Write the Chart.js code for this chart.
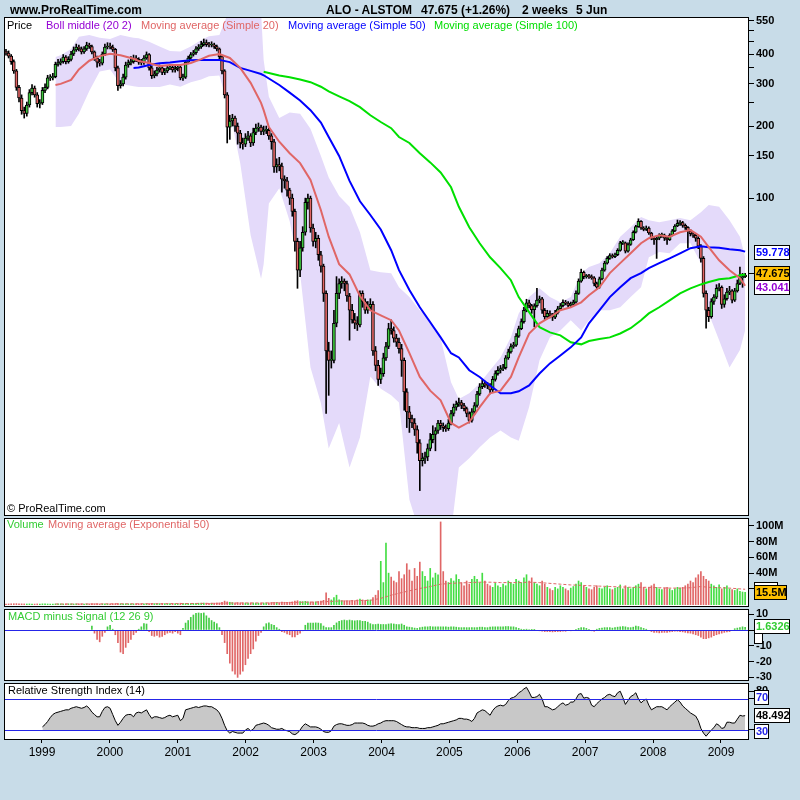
<!DOCTYPE html>
<html>
<head>
<meta charset="utf-8">
<title>ALO - ALSTOM</title>
<script src="https://cdn.jsdelivr.net/npm/chart.js@4.4.1/dist/chart.umd.min.js"></script>
<style>
  body { margin: 0; width: 800px; height: 800px; background: #c8dce8; position: relative; overflow: hidden; font-family: Arial, "Liberation Sans", sans-serif; }
  canvas { position: absolute; left: 0; top: 0; }
  .tt { position: absolute; top: 3px; font-size: 12px; font-weight: bold; line-height: 14px; white-space: nowrap; color: #000; }
  .lg { position: absolute; font-size: 11px; line-height: 14px; white-space: nowrap; }
</style>
</head>
<body>
<canvas id="priceChart" width="800" height="800"></canvas>
<canvas id="volChart" width="800" height="800"></canvas>
<canvas id="macdChart" width="800" height="800"></canvas>
<canvas id="rsiChart" width="800" height="800"></canvas>

<div class="tt" style="left:10px">www.ProRealTime.com</div>
<div class="tt" style="left:326px">ALO - ALSTOM</div>
<div class="tt" style="left:421px">47.675 (+1.26%)</div>
<div class="tt" style="left:522px">2 weeks</div>
<div class="tt" style="left:576px">5 Jun</div>

<div class="lg" style="top:18px;left:7px;color:#000">Price</div>
<div class="lg" style="top:18px;left:46px;color:#9400d3">Boll middle (20 2)</div>
<div class="lg" style="top:18px;left:141px;color:#e06666">Moving average (Simple 20)</div>
<div class="lg" style="top:18px;left:288px;color:#0000ff">Moving average (Simple 50)</div>
<div class="lg" style="top:18px;left:434px;color:#00dd00">Moving average (Simple 100)</div>
<div class="lg" style="top:501px;left:7px;color:#000">© ProRealTime.com</div>
<div class="lg" style="top:517px;left:7px;color:#33cc33">Volume</div>
<div class="lg" style="top:517px;left:48px;color:#e06666">Moving average (Exponential 50)</div>
<div class="lg" style="top:609px;left:8px;color:#33cc33">MACD minus Signal (12 26 9)</div>
<div class="lg" style="top:683px;left:8px;color:#000">Relative Strength Index (14)</div>

<script>
// one candle every 2 weeks, first one mid 1998
const firstBar = 1998.4698;
const barStep = 14 / 365.25;

const openP = [
  410,404,392,372,340,290,262,232,226,245,
  276,288,270,248,250,282,290,318,318,322,
  362,368,372,388,372,380,400,416,428,420,
  408,420,436,430,408,385,370,366,400,428,
  432,428,418,350,295,300,320,360,368,372,
  385,380,370,368,385,398,350,325,330,343,
  350,335,340,350,352,343,348,353,318,320,
  370,385,398,405,420,428,438,446,438,436,
  437,430,420,390,340,270,198,210,216,200,
  187,170,168,178,182,170,188,196,198,190,
  192,192,182,172,135,138,136,120,118,108,
  100,88,66,50,62,72,96,100,75,66,
  68,58,52,40,23,21,21,30,40,44,
  45,44,39,34,31,30,29.5,40,37,34,
  35,36,23,20,17.5,18.5,21.5,24,28.5,28,
  26,25,23.5,21,15.5,12.8,12,11.5,10.8,9.5,
  8,8.2,8.3,9,9.8,10.3,10.7,11.5,11.2,11,
  10.9,11.5,12.6,13.4,13.8,14,13.6,13.2,12.6,11.8,
  12.8,13.6,15.2,16.3,16.8,16.6,16.5,15.8,17.5,18.5,
  19.1,19.4,19.6,21.5,22.8,24,24.3,26.5,28.5,30.5,
  34,36.5,35.6,34.2,35.5,37.5,38,34,32,33,
  32.5,31.8,33.2,34.5,35.5,36.7,36.4,35.6,36,36.8,
  40,45,49,47,47.2,47,46.5,44,42.5,46,
  50,53.5,56,57.5,57,58,60.5,65,65,60,
  64,67,72,76,80,75,74,75,71.5,68,
  67,68,70,70,68,67,70,73,76.5,78.5,
  79,77,75.5,73,71,70,68,63,56,40,
  34,32,37,38.6,42,42.4,36,38,40.5,41,
  37.5,41,44,46.5,47
];
const highP = [
  418,412,398,378,345,296,270,240,252,284,
  298,294,276,258,290,300,326,328,332,370,
  380,382,398,394,390,410,428,440,436,428,
  430,448,444,436,412,392,380,408,440,446,
  444,436,422,356,310,330,370,378,390,396,
  394,386,380,394,408,402,356,340,352,360,
  356,348,358,362,358,356,362,358,330,376,
  392,406,414,430,438,452,462,458,448,450,
  444,436,424,394,344,276,222,224,220,206,
  192,178,186,190,186,196,204,206,202,200,
  200,196,186,176,146,148,140,124,122,110,
  104,90,68,66,76,100,104,102,78,72,
  70,60,53,41,25,23,34,47,46,47,
  46,45,40,36,33,32,41,41,38,37,
  38,37,24,21,19.5,22.5,25,30,31,29,
  27,26,24.5,21.5,16,13.5,12.4,12,11.2,9.8,
  8.6,8.7,9.4,10.4,11.2,11,11.8,11.8,11.5,11.3,
  11.9,13,13.8,14.2,14.6,14.3,13.9,13.4,12.8,13.2,
  14,15.6,16.8,17.4,17.2,17,16.8,18,19,19.8,
  20,20.2,22,23.4,24.6,25,27.2,29.2,31.3,35,
  37.8,37.5,36,36.2,42,39,38.5,34.6,34,33.8,
  33,34,35.3,36.3,37.6,37.4,37,36.8,37.5,41,
  46,50.5,49.6,48,48,47.8,47,44.6,46.8,51,
  54.5,57,58.6,58.5,59,61.5,66,66.5,65.6,65,
  68,73,77,82,80.6,76,76.5,75.8,72,69,
  69.5,71,71.5,70.8,68.8,71,74,77.5,81,80.5,
  80,78,76,74,72,71,69,64,57,41,
  35,38,39.5,43.5,44,43,39.5,42,42.8,41.5,
  42,45.5,51.5,48.5,48.5
];
const lowP = [
  396,385,362,332,282,252,224,216,220,240,
  270,264,240,238,246,276,286,310,312,318,
  356,360,366,364,366,374,394,410,412,400,
  402,414,422,400,376,352,356,360,394,420,
  420,410,340,282,288,294,314,352,360,366,
  372,362,360,362,380,342,316,318,324,336,
  328,328,334,344,336,336,340,312,310,316,
  364,380,392,398,414,422,432,430,428,428,
  422,412,382,330,262,170,176,200,190,168,
  162,160,164,174,164,166,184,190,184,184,
  186,176,160,128,128,130,106,110,102,94,
  84,60,42,47,60,70,90,72,63,62,
  55,49,37,12.6,15,19.5,20.5,29,38,42,
  41,37,25.5,30,28.5,28,29,35,33,33,
  34,22,19,16.5,16.8,18,21,23.5,27,25,
  24,22.5,18,13,11,10.5,11,10.2,8.6,6,
  7.6,7.8,8,8.8,9.5,8.8,10.4,10.8,10.6,10.6,
  10.7,11.3,12.3,13,13.5,13.2,12.9,12.2,11.5,11.6,
  12.5,13.4,15,16,16.2,16,15.2,15.5,17.2,18.2,
  18.6,19,19.3,21.2,22.5,23.6,24,26.2,28.2,30,
  33.5,34.8,33,29,35,36.5,33,31,31.5,31.6,
  30.8,31.4,32.8,34,35.1,35.8,35,35.2,35.5,36.4,
  39.6,44.5,46,46.3,46.2,45.8,43,41.5,42,45.5,
  49.5,53,55.5,56.2,56.4,57.5,60,64,59,59.5,
  63.5,66.5,71.5,75.5,74,73,73.2,70.5,67,64,
  56,67,68.5,66.5,64,66.5,69.5,72.5,76,77,
  75.5,74,62,69.5,68.5,66,61.5,54,38.6,28.6,
  30.5,31.5,36,38,41,34.6,35,37.5,39.5,36.5,
  37,40.5,43.5,42.4,46.5
];
const closeP = [
  404,392,372,340,290,262,232,226,245,276,
  288,270,248,250,282,290,318,318,322,362,
  368,372,388,372,380,400,416,428,420,408,
  420,436,430,408,385,370,366,400,428,432,
  428,418,350,295,300,320,360,368,372,385,
  380,370,368,385,398,350,325,330,343,350,
  335,340,350,352,343,348,353,318,320,370,
  385,398,405,420,428,438,446,438,436,437,
  430,420,390,340,270,198,210,216,200,187,
  170,168,178,182,170,188,196,198,190,192,
  192,182,172,135,138,136,120,118,108,100,
  88,66,50,62,72,96,100,75,66,68,
  58,52,40,23,21,21,30,40,44,45,
  44,39,34,31,30,29.5,40,37,34,35,
  36,23,20,17.5,18.5,21.5,24,28.5,28,26,
  25,23.5,21,15.5,12.8,12,11.5,10.8,9.5,8,
  8.2,8.3,9,9.8,10.3,10.7,11.5,11.2,11,10.9,
  11.5,12.6,13.4,13.8,14,13.6,13.2,12.6,11.8,12.8,
  13.6,15.2,16.3,16.8,16.6,16.5,15.8,17.5,18.5,19.1,
  19.4,19.6,21.5,22.8,24,24.3,26.5,28.5,30.5,34,
  36.5,35.6,34.2,35.5,37.5,38,34,32,33,32.5,
  31.8,33.2,34.5,35.5,36.7,36.4,35.6,36,36.8,40,
  45,49,47,47.2,47,46.5,44,42.5,46,50,
  53.5,56,57.5,57,58,60.5,65,65,60,64,
  67,72,76,80,75,74,75,71.5,68,67,
  68,70,70,68,67,70,73,76.5,78.5,79,
  77,75.5,73,71,70,68,63,56,40,34,
  32,37,38.6,42,42.4,36,38,40.5,41,37.5,
  41,44,46.5,47,47.675
];

// volume in millions
const volume = [
  0.8,0.9,1.1,1.2,1.3,1.1,1.0,0.9,0.8,0.9,
  0.8,0.7,0.9,0.8,1.0,0.9,0.8,0.7,0.8,0.9,
  0.9,1.0,0.8,0.9,1.0,0.9,0.8,0.9,1.0,0.9,
  0.8,0.9,1.0,1.1,1.2,1.0,0.9,0.9,1.0,0.9,
  0.9,1.0,1.4,1.5,1.2,1.0,1.1,1.0,0.9,1.0,
  1.1,1.2,1.0,1.1,1.2,1.4,1.5,1.3,1.2,1.3,
  1.4,1.3,1.2,1.3,1.4,1.5,1.4,1.8,1.6,1.5,
  1.4,1.5,1.6,1.7,1.8,1.9,2.0,1.8,1.7,1.8,
  1.9,2.0,2.2,2.8,4.5,3.5,3.0,2.6,2.4,2.5,
  2.3,2.2,2.1,2.0,2.2,2.1,2.0,1.9,2.0,2.1,
  2.2,2.3,2.5,3.0,2.8,2.6,3.2,3.0,2.9,3.1,
  3.5,4.5,5.0,4.0,3.8,4.2,3.6,3.4,3.2,3.5,
  4.0,4.5,5.5,15,8,6,9,12,6,5,
  5,4.5,5,5.5,5,6,7,6,5.5,6,
  6,9,12,18,55,28,78,40,35,30,
  28,42,33,38,52,44,30,46,36,54,
  42,36,30,46,34,40,38,105,42,30,
  28,33,30,38,32,28,24,30,26,32,
  36,32,28,40,30,26,24,22,27,24,
  22,26,24,30,28,26,32,30,28,34,
  38,30,34,28,26,24,30,26,22,20,
  18,22,20,24,22,20,18,21,23,26,
  30,28,24,22,20,19,22,24,21,20,
  22,24,20,19,21,22,25,20,24,22,
  20,22,24,26,28,22,20,22,24,26,
  22,20,19,21,22,20,18,20,22,21,
  22,24,26,30,28,34,38,42,36,32,
  30,26,24,22,25,20,22,24,20,19,
  18,20,17,16,15.5
];

// MACD minus signal, first value on bar 33
const macdStart = 33;
const macdHist = [
  2.5,-2,-6,-7.5,-4,-1.5,2,
  3,0.5,-3,-8,-14,-15,-11,-8,-6,-3,
  -1.5,0.5,2,4,3.8,-1,-3.5,-4,-3.5,-4.5,
  -4,-3,-2,-1.5,-2,-1,-2,-3,1,4.4,
  6,8,9.5,10.5,10.8,10.5,10.8,9,7.5,6,
  5,4,1.5,-3,-8,-15,-21,-26,-28,-30,
  -28,-26,-22,-18,-15,-12,-7,-3.5,-1.5,2,
  4,4.5,3.5,3,1.5,0.5,-1,-1.5,-2.5,-3,
  -4.4,-4.4,-3,-2,-0.5,3,4.4,4.4,4.4,4.5,
  4.4,4,2.5,1.5,1.5,1.5,3,4.5,5.5,6,
  6.3,6,6.3,6,5.8,6,6,5.5,5.5,5,
  4,3.5,3.5,3.8,3.5,3.5,3.5,3.8,4,3.8,
  3.5,3.5,3.8,3,2,1.8,1.5,1.2,1,1.5,
  1.8,2,2,2.2,2,2,2,2,2,2,
  1.8,2,2,1.8,1.5,1.5,1.5,1.5,1.5,1.5,
  1.5,1.5,1.8,1.8,1.5,1.5,1.8,2,2,2,
  2,2,2.2,2.2,2,2,1.5,1,0.5,0.5,
  0.5,0.3,0.2,0.1,-0.3,-0.5,-0.8,-1,-1,-1,
  -1.2,-1,-1,-1,-0.8,-0.8,-0.5,-0.5,-0.3,0.5,
  1,1.5,1.5,1,0.5,-0.5,-0.8,0.5,1,1.2,
  1.5,1.5,1.5,1.2,1.5,1.8,2,2.2,2,1.5,
  1.5,1.8,2.5,2.2,1.5,1,0.5,-0.5,-1,-1.5,
  -1.5,-1.8,-1.5,-1.5,-1.5,-1.2,-1,-0.8,-0.8,-1,
  -1.2,-1.5,-1.8,-2,-2.5,-3,-3.5,-4.5,-5.5,-5.5,
  -5,-4.5,-3.6,-3,-2.5,-2,-1.5,-1.2,-1,-0.5,
  0.8,1.2,1.5,2,1.6326
];

// RSI 14, first value on bar 14
const rsiStart = 14;
const rsi = [
  34,37,41,46,50,52,
  53,54,55,56,56,58,59,60,59,58,
  59,61,58,53,50,47,47,54,59,60,
  58,50,42,36,40,45,49,50,50,47,
  52,53,52,54,56,50,45,47,47,46,
  45,46,48,49,47,48,49,42,45,56,
  57,58,59,60,59,60,61,61,60,60,
  58,56,52,45,36,29,26,28,27,26,
  26,26,30,32,29,31,36,37,38,39,
  38,36,33,32,31,31,32,30,29,28,
  25,24,26,30,35,38,36,34,34,34,
  33,31,28,27,27,29,35,37,38,38,
  37,36,36,37,39,39,39,39,38,36,
  35,35,36,38,39,41,42,42,42,42,
  41,39,37,35,34,34,33,33,33,32,
  32,32,33,33,34,35,36,38,38,39,
  40,41,42,43,45,45,44,44,43,41,
  45,52,54,56,55,52,49,55,59,61,
  62,61,63,68,71,72,74,78,80,83,
  85,79,72,72,73,76,70,60,60,58,
  56,57,60,63,65,62,63,66,66,70,
  76,77,71,72,71,62,60,64,67,70,
  72,75,76,74,73,78,80,72,63,68,
  73,75,78,70,65,68,70,62,56,58,
  60,60,60,58,56,60,63,66,69,66,
  61,58,55,52,50,48,42,32,26,22,
  26,30,33,38,36,32,33,40,40,39,
  39,44,49,48,48.492
];

// averages and bands read at these bars
const maBars = [19,21,25,28,32,36,40,44,48,49, 51,55,59,63,67,71,75,78,82,86,
  90,94,98,99,101,105,109,113,117,121, 124,128,132,136,140,144,148,151,155,159,
  163,167,171,174,178,182,186,190,194,197, 201,205,209,213,217,221,224,228,232,236,
  240,244,247,251,255,259,263,267,270,274, 278,282,284];
const sma20 = [297,300,312,345,375,392,401,395,385,382, 374,367,356,360,360,367,381,393,400,385,
  350,303,250,233,198,172,154,140,119,89, 69,53,48,39,34,32.4,30.9,28,22.5,17.9,
  15.7,14.3,11.5,11,11.6,13.4,15.3,15.7,17.9,21.6, 27.2,30,31.8,34,35,36.7,39.3,42.4,48.6,53.5,
  58.8,64.8,68,70,69,72,73.5,69,62.4,55, 50,46.3,43.04];
const sma50 = [null,null,null,null,null,null,null,null,null,350, 351,360,366,369,373,377,378,378,378,370,
  350,340,330,326,316,297,276,256,233,207, 180,150,118,97,85,74,60.6,50,41.3,35,
  30.3,26.2,22.5,21.6,19.1,17.9,16.5,15.3,15.3,15.6, 16.5,18.5,20.4,22,23.8,26.2,30,34,38.6,42.4,
  46.3,48.6,51,53.5,56,58.8,61.8,63,62.4,62, 61.2,60.6,59.778];
const sma100 = [null,null,null,null,null,null,null,null,null,null, null,null,null,null,null,null,null,null,null,null,
  null,null,null,337,333,325,320,313,305,292, 279,266,254,240,222,208,196,180,170,154,
  141,128,111,92,75.6,64.8,56.6,51,45.4,38.6, 33.4,28.9,27.5,26.7,25,24.5,25.3,25.8,26.2,27.2,
  28.6,30.9,33,35,37.4,40,42,43.6,44.6,45.8, 46.3,47.6,48];
const bollUp = [389,395,420,472,480,468,462,480,470,468, 465,450,430,412,410,430,458,474,480,620,
  650,650,600,378,265,216,228,225,195,150, 122,102,92,72,50,49,48.6,42.4,38.6,34,
  30.9,26,17,14.5,15.3,16.8,19.1,21.6,26.2,33, 38.6,42,38.6,36.7,38.6,48.6,51.5,53.5,58.8,69,
  75.6,83.3,80.9,79.3,80.9,82.5,80.9,87.4,93.5,92, 80.9,69,56.6];
const bollLo = [198,198,200,225,280,338,345,300,295,293, 291,291,291,298,292,305,313,323,325,230,
  140,70,46,53,95,110,80,48.6,19.6,13.9, 9,11.5,7.5,10,18,16,15,14,5.5,4,
  4,4,4,7.5,8.2,9.1,10,10.7,10,9.7, 13.4,21,26.2,28,30.9,28,30.9,34,34,35,
  38.6,42.4,56.6,59.5,58.8,64.8,64.8,53.5,33,25.5, 19.6,23.2,28];
const volEma = [0.8,0.8,0.8,0.85,0.9,0.95,1,1.05,1.05,1.05, 1.1,1.15,1.2,1.3,1.35,1.45,1.55,1.6,1.7,2,
  2.1,2.1,2.1,2.1,2.2,2.4,2.6,3,3.2,3.4, 4,4.6,4.8,5.2,5.5,8,12,14.5,17.5,20.5,
  23,26,27,27.5,28,28.5,28.5,28,28,28, 28.5,28,27,26,25,24.5,24,23.5,23,22.5,
  22,22,22,21.5,21,21,21.5,23,22,21.5, 21,20,19.5];

// axis ticks
const yearLabels = [1999,2000,2001,2002,2003,2004,2005,2006,2007,2008,2009];
const priceTicks = [550,500,450,400,350,300,250,200,150,100];
const priceLabels = [550,400,300,200,150,100];
const volTicks = [100,80,60,40,20];
const macdTicks = [10,0,-10,-20,-30];
const rsiTicks = [80,70,30];

const barDates = closeP.map((c, i) => firstBar + i * barStep);

const green = '#3cc43c';
const red = '#e06464';
const font = 'Arial, "Liberation Sans", sans-serif';
Chart.defaults.font.family = font;

// white panel, black frame, blue guide lines, value boxes on the right
const panelPlugin = {
  id: 'panel',
  beforeDraw(chart) {
    const a = chart.chartArea, ctx = chart.ctx;
    ctx.save();
    ctx.fillStyle = '#ffffff';
    ctx.fillRect(a.left, a.top, a.right - a.left, a.bottom - a.top);
    ctx.restore();
  },
  afterDatasetsDraw(chart, args, opts) {
    const a = chart.chartArea, ctx = chart.ctx, ys = chart.scales.y;
    ctx.save();
    ctx.lineWidth = 1;
    ctx.strokeStyle = '#2525e8';
    (opts.lines || []).forEach(v => {
      const py = Math.round(ys.getPixelForValue(v)) + 0.5;
      ctx.beginPath();
      ctx.moveTo(a.left, py);
      ctx.lineTo(a.right, py);
      ctx.stroke();
    });
    ctx.strokeStyle = '#000';
    ctx.strokeRect(a.left + 0.5, a.top + 0.5, a.right - a.left - 1, a.bottom - a.top - 1);
    ctx.restore();
  },
  afterDraw(chart, args, opts) {
    const ctx = chart.ctx, ys = chart.scales.y, a = chart.chartArea;
    ctx.save();
    ctx.font = 'bold 11px ' + font;
    ctx.textBaseline = 'middle';
    ctx.lineWidth = 1;
    (opts.boxes || []).forEach(b => {
      const cy = Math.round(ys.getPixelForValue(b.value) + (b.dy || 0));
      const top = cy - 7;
      if (b.tick) {
        ctx.strokeStyle = '#000';
        ctx.beginPath();
        ctx.moveTo(a.right, cy + 0.5);
        ctx.lineTo(a.right + 5, cy + 0.5);
        ctx.stroke();
      }
      ctx.fillStyle = b.bg;
      ctx.fillRect(a.right + 5, top, b.w, 15);
      ctx.strokeStyle = '#000';
      ctx.strokeRect(a.right + 5.5, top + 0.5, b.w - 1, 14);
      if (b.text) {
        ctx.fillStyle = b.color;
        ctx.fillText(b.text, a.right + 7, cy + 0.5);
      }
    });
    ctx.restore();
  }
};

function xAxis(show) {
  return {
    type: 'linear', min: 1998.4404, max: 2009.4124, offset: false, display: show,
    afterBuildTicks: s => { s.ticks = yearLabels.map(v => ({ value: v })); },
    afterFit: s => {
      s.height = show ? 30 : 0;
      s.paddingLeft = 0;
      s.paddingRight = 0;
    },
    grid: { drawOnChartArea: false, tickLength: 3, color: '#000' },
    border: { display: false },
    ticks: { color: '#000', font: { size: 12 }, padding: 2, maxRotation: 0, autoSkip: false, callback: v => String(v) }
  };
}

function yAxis(type, min, max, tickList, label) {
  return {
    type: type, position: 'right', min: min, max: max,
    afterBuildTicks: s => { s.ticks = tickList.map(v => ({ value: v })); },
    afterFit: s => { s.width = 51; s.paddingTop = 0; s.paddingBottom = 0; },
    grid: { drawOnChartArea: false, tickLength: 5, color: '#000' },
    border: { display: false },
    ticks: { color: '#000', font: { size: 11, weight: 'bold' }, padding: 2, autoSkip: false, callback: label }
  };
}

function baseOptions(top, bottom, scales, panel) {
  return {
    responsive: false, animation: false, devicePixelRatio: 1,
    layout: { padding: { left: 4, right: 0, top: top, bottom: bottom } },
    plugins: { legend: { display: false }, tooltip: { enabled: false }, panel: panel },
    scales: scales
  };
}

function maLine(values) {
  return maBars.map((b, k) => ({ x: barDates[b], y: values[k] }));
}

// 📌 price panel
new Chart(document.getElementById('priceChart'), {
  type: 'bar',
  data: {
    datasets: [
      { type: 'line', data: maLine(bollUp), borderWidth: 0, borderColor: 'rgba(0,0,0,0)', pointRadius: 0,
        fill: '+1', backgroundColor: '#e4dafa', order: 10 },
      { type: 'line', data: maLine(bollLo), borderWidth: 0, borderColor: 'rgba(0,0,0,0)', pointRadius: 0,
        fill: false, order: 10 },
      { type: 'bar', data: barDates.map((t, i) => ({ x: t, y: [lowP[i], highP[i]] })),
        backgroundColor: '#000', barThickness: 1, grouped: false, order: 6 },
      { type: 'bar', data: barDates.map((t, i) => ({ x: t, y: [openP[i], closeP[i]] })),
        backgroundColor: closeP.map((c, i) => c >= openP[i] ? green : red),
        borderColor: '#000', borderWidth: 1, borderSkipped: false, barThickness: 3, minBarLength: 1,
        grouped: false, order: 5 },
      { type: 'line', data: maLine(sma100), borderColor: '#00e000', borderWidth: 2, pointRadius: 0, order: 3 },
      { type: 'line', data: maLine(sma50), borderColor: '#0000ff', borderWidth: 2, pointRadius: 0, order: 2 },
      { type: 'line', data: maLine(sma20), borderColor: '#e06666', borderWidth: 2, pointRadius: 0, order: 1 }
    ]
  },
  options: baseOptions(17, 284, {
    x: xAxis(false),
    y: yAxis('logarithmic', 4.7, 571, priceTicks, v => priceLabels.includes(v) ? String(v) : '')
  }, {
    boxes: [
      { value: 59.778, text: '59.778', color: '#0000ff', bg: '#fff', w: 36 },
      { value: 43.041, text: '43.041', color: '#9400d3', bg: '#fff', w: 36, dy: 1 },
      { value: 47.675, text: '47.675', color: '#000', bg: '#ffc000', w: 36, dy: -2, tick: true }
    ]
  }),
  plugins: [panelPlugin]
});

// 📌 volume panel
new Chart(document.getElementById('volChart'), {
  type: 'bar',
  data: {
    datasets: [
      { type: 'bar', data: barDates.map((t, i) => ({ x: t, y: volume[i] })),
        backgroundColor: closeP.map((c, i) => c >= openP[i] ? '#44dd44' : '#e06666'),
        barThickness: 1, grouped: false, order: 2 },
      { type: 'line', data: maLine(volEma), borderColor: '#e06666', borderWidth: 1, borderDash: [3, 2],
        pointRadius: 0, order: 1 }
    ]
  },
  options: baseOptions(518, 193, {
    x: xAxis(false),
    y: yAxis('linear', -3, 110, volTicks, v => v + 'M')
  }, {
    boxes: [
      { value: 19.5, text: '', bg: '#fff', w: 24 },
      { value: 15.5, text: '15.5M', color: '#000', bg: '#ffc000', w: 33 }
    ]
  }),
  plugins: [panelPlugin]
});

// 📌 MACD panel
new Chart(document.getElementById('macdChart'), {
  type: 'bar',
  data: {
    datasets: [
      { type: 'bar', data: macdHist.map((v, k) => ({ x: barDates[macdStart + k], y: v })),
        backgroundColor: macdHist.map(v => v >= 0 ? '#44cc44' : '#e06666'),
        barThickness: 1, grouped: false }
    ]
  },
  options: baseOptions(609, 119, {
    x: xAxis(false),
    y: yAxis('linear', -32.3, 13.3, macdTicks, v => v === 0 ? '' : String(v))
  }, {
    lines: [0],
    boxes: [
      { value: -4, text: '', bg: '#fff', w: 9 },
      { value: 1.6326, text: '1.6326', color: '#33cc33', bg: '#fff', w: 36, dy: -1 }
    ]
  }),
  plugins: [panelPlugin]
});

// 📌 RSI panel with the year axis
new Chart(document.getElementById('rsiChart'), {
  type: 'line',
  data: {
    datasets: [
      { data: rsi.map((v, k) => ({ x: barDates[rsiStart + k], y: v })),
        borderColor: '#000', borderWidth: 1, pointRadius: 0,
        fill: { value: 30 }, backgroundColor: '#c8c8c8' }
    ]
  },
  options: baseOptions(683, 30, {
    x: xAxis(true),
    y: yAxis('linear', 17.1, 90.6, rsiTicks, v => v === 80 ? '80' : '')
  }, {
    lines: [70, 30],
    boxes: [
      { value: 70, text: '70', color: '#2525e8', bg: '#fff', w: 15, dy: -2 },
      { value: 48.492, text: '48.492', color: '#000', bg: '#fff', w: 36, dy: -1 },
      { value: 30, text: '30', color: '#2525e8', bg: '#fff', w: 15, dy: 1 }
    ]
  }),
  plugins: [panelPlugin]
});
</script>
</body>
</html>
